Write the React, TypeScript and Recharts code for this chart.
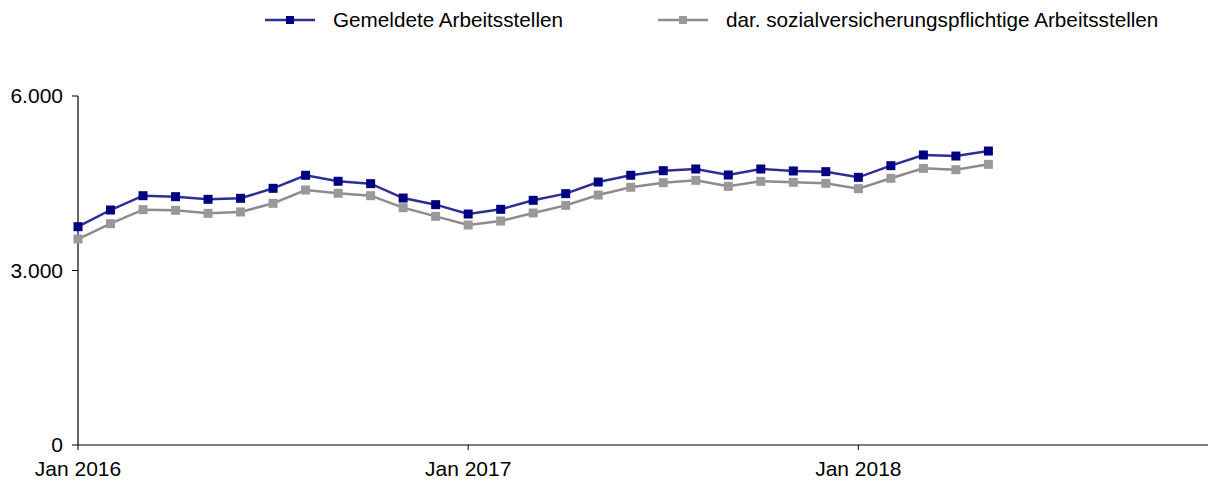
import React from "react";
import { LineChart, Line, XAxis, YAxis } from "recharts";

const months = [
  "2016-01","2016-02","2016-03","2016-04","2016-05","2016-06","2016-07","2016-08","2016-09","2016-10","2016-11","2016-12",
  "2017-01","2017-02","2017-03","2017-04","2017-05","2017-06","2017-07","2017-08","2017-09","2017-10","2017-11","2017-12",
  "2018-01","2018-02","2018-03","2018-04","2018-05",
];

const gemeldete = [
  3753, 4040, 4286, 4269, 4224, 4241, 4413, 4637, 4534, 4493, 4246, 4132,
  3971, 4052, 4207, 4321, 4521, 4637, 4716, 4745, 4642, 4745, 4711, 4699,
  4602, 4802, 4986, 4968, 5054,
];

const svPflichtig = [
  3541, 3805, 4046, 4034, 3983, 4006, 4155, 4384, 4327, 4286, 4080, 3931,
  3782, 3851, 3989, 4120, 4298, 4430, 4510, 4550, 4447, 4533, 4516, 4499,
  4407, 4585, 4756, 4733, 4825,
];

const xTicks = [0, 12, 24];
const xTickLabels = ["Jan 2016", "Jan 2017", "Jan 2018"];
const yTicks = [0, 3000, 6000];

const seriesNames = ["Gemeldete Arbeitsstellen", "dar. sozialversicherungspflichtige Arbeitsstellen"];

const NAVY_LINE = "#2e2e96";
const NAVY_MARK = "#000080";
const GRAY_LINE = "#8c8c8c";
const GRAY_MARK = "#999999";

const data = months.map((m, i) => ({
  idx: i,
  month: m,
  a: gemeldete[i],
  b: svPflichtig[i],
}));

const FONT = "'Liberation Sans', Arial, Helvetica, sans-serif";

const makeDot = (color: string) => (props: any) => {
  const { cx, cy, index } = props;
  if (cx == null || cy == null) return <g key={`d-${index}`} />;
  return <rect key={`d-${color}-${index}`} x={cx - 4.5} y={cy - 4.5} width={9} height={9} fill={color} />;
};

const fmtY = (v: number) => v.toLocaleString("de-DE");
const fmtX = (v: number) => xTickLabels[xTicks.indexOf(v)] ?? "";

const LegendItem = ({ left, line, mark, label }: { left: number; line: string; mark: string; label: string }) => (
  <div style={{ position: "absolute", left, top: 6, height: 28, display: "flex", alignItems: "center", whiteSpace: "nowrap" }}>
    <svg width={50} height={12} style={{ display: "block" }}>
      <line x1={0} y1={6} x2={50} y2={6} stroke={line} strokeWidth={2.5} />
      <rect x={21} y={2} width={8} height={8} fill={mark} />
    </svg>
    <span style={{ marginLeft: 18, fontSize: 20.7, fontFamily: FONT, color: "#000" }}>{label}</span>
  </div>
);

export default function App() {
  return (
    <div style={{ position: "absolute", left: 0, top: 0, width: 1208, height: 481, overflow: "hidden", background: "#fff" }}>
      <LegendItem left={265} line={NAVY_LINE} mark={NAVY_MARK} label={seriesNames[0]} />
      <LegendItem left={658} line={GRAY_LINE} mark={GRAY_MARK} label={seriesNames[1]} />
      <div style={{ position: "absolute", left: 0, top: 0 }}>
        <LineChart width={1216} height={481} data={data} margin={{ top: 96, right: 0, bottom: 0, left: 0 }}>
          <XAxis
            dataKey="idx"
            type="number"
            domain={[0, 35]}
            ticks={xTicks}
            tickFormatter={fmtX}
            interval={0}
            height={36}
            tickSize={5}
            tickMargin={11}
            stroke="#000"
            tick={{ fill: "#000", fontSize: 21, fontFamily: FONT }}
            axisLine={{ stroke: "#000", strokeWidth: 1.2 }}
            tickLine={{ stroke: "#000" }}
          />
          <YAxis
            type="number"
            domain={[0, 6000]}
            ticks={yTicks}
            tickFormatter={fmtY}
            interval={0}
            width={78}
            tickSize={6}
            tickMargin={9}
            stroke="#000"
            tick={{ fill: "#000", fontSize: 21, fontFamily: FONT }}
            axisLine={{ stroke: "#000", strokeWidth: 1.2 }}
            tickLine={{ stroke: "#000" }}
          />
          <Line
            dataKey="b"
            type="linear"
            stroke={GRAY_LINE}
            strokeWidth={2.5}
            dot={makeDot(GRAY_MARK)}
            activeDot={false}
            isAnimationActive={false}
          />
          <Line
            dataKey="a"
            type="linear"
            stroke={NAVY_LINE}
            strokeWidth={2.5}
            dot={makeDot(NAVY_MARK)}
            activeDot={false}
            isAnimationActive={false}
          />
        </LineChart>
      </div>
    </div>
  );
}
